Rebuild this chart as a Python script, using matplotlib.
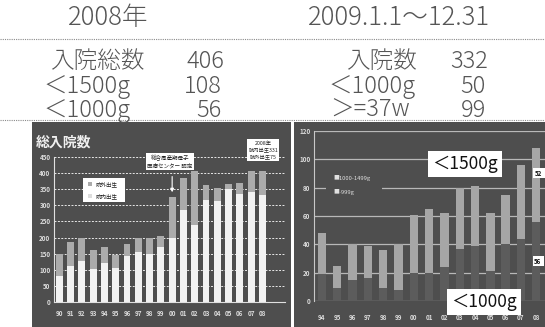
import matplotlib.pyplot as plt
import numpy as np
from matplotlib.patches import Rectangle
from matplotlib.lines import Line2D

W, H = 545, 327
plt.rcParams['font.family'] = ['Noto Sans CJK JP', 'DejaVu Sans']

# 総入院数 1990-2008 (院内出生 / 院外出生)
years_all = ['90', '91', '92', '93', '94', '95', '96', '97', '98', '99',
             '00', '01', '02', '03', '04', '05', '06', '07', '08']
inborn = [82, 112, 128, 103, 121, 104, 143, 155, 148, 170,
          200, 285, 240, 317, 312, 352, 336, 340, 331]
outborn = [68, 73, 72, 57, 49, 41, 37, 45, 50, 35,
           125, 100, 165, 45, 43, 13, 34, 65, 75]

# <1500g 1994-2008 (-999g / 1000-1499g)
years_vlbw = ['94', '95', '96', '97', '98', '99', '00', '01', '02',
              '03', '04', '05', '06', '07', '08']
under_1000 = [19, 9, 15, 16, 9, 8, 20, 20, 24, 37, 39, 21, 40, 44, 56]
g1000_1499 = [29, 16, 25, 23, 27, 32, 41, 45, 38, 43, 42, 41, 35, 52, 52]

BG = '#4e4e4e'
TXT = '#555555'


def fx(x):
    return x / W


def fy(y):
    return 1 - y / H


def ftext(x, y, s, **kw):
    kw.setdefault('va', 'center')
    return fig.text(fx(x), fy(y), s, **kw)


def frect(x0, y0, x1, y1, color, z=-1, **kw):
    r = Rectangle((fx(x0), fy(y1)), (x1 - x0) / W, (y1 - y0) / H,
                  transform=fig.transFigure, facecolor=color,
                  edgecolor='none', zorder=z, **kw)
    fig.add_artist(r)
    return r


fig = plt.figure(figsize=(W / 100, H / 100), dpi=100)
fig.patch.set_facecolor('white')

# summary block
for yy in (39, 120):
    fig.add_artist(Line2D([0, 1], [fy(yy), fy(yy)], transform=fig.transFigure,
                          color='#8a8a8a', lw=0.8, ls=(0, (1, 1))))

head = dict(fontsize=18.5, color=TXT, fontweight='light')
row = dict(fontsize=17, color=TXT, fontweight='light')

ftext(68, 18, '2008年', **head)
ftext(50, 61, '入院総数', **row)
ftext(224, 61, '406', ha='right', **row)
ftext(43, 86, '＜1500g', **row)
ftext(222, 86, '108', ha='right', **row)
ftext(43, 110, '＜1000g', **row)
ftext(222, 110, '56', ha='right', **row)

ftext(308, 18, '2009.1.1～12.31', **head)
ftext(346, 61, '入院数', **row)
ftext(488, 61, '332', ha='right', **row)
ftext(328, 86, '＜1000g', **row)
ftext(486, 86, '50', ha='right', **row)
ftext(330, 110, '＞=37w', **row)
ftext(486, 110, '99', ha='right', **row)

# dark panels behind both charts
frect(32, 122, 291, 327, BG)
frect(294, 122, 545, 327, BG)

tick_style = dict(length=0, labelsize=4.5, labelcolor='#dcdcdc')

# left: total admissions
ax1 = fig.add_axes([fx(54), fy(302), (285 - 54) / W, (302 - 157) / H])
ax1.set_facecolor('none')
x1 = np.arange(len(years_all))
ax1.bar(x1, inborn, width=0.6, color='#f2f2f2', zorder=2)
ax1.bar(x1, outborn, bottom=inborn, width=0.6, color='#ababab', zorder=2)
ax1.set_xlim(-0.47, 20.0)
ax1.set_ylim(0, 450)
ax1.set_yticks(range(0, 451, 50))
ax1.set_xticks(x1, years_all)
ax1.yaxis.grid(True, color='#e8e8e8', lw=0.7, ls=(0, (2, 1.5)))
ax1.set_axisbelow(True)
for s in ('top', 'right'):
    ax1.spines[s].set_visible(False)
for s in ('left', 'bottom'):
    ax1.spines[s].set_color('#e0e0e0')
    ax1.spines[s].set_linewidth(0.8)
ax1.tick_params(axis='y', pad=2.5, **tick_style)
ax1.tick_params(axis='x', pad=6, **tick_style)
for lab in ax1.get_xticklabels() + ax1.get_yticklabels():
    lab.set_fontweight('bold')

ftext(36, 143, '総入院数', fontsize=10, color='#f0f0f0', fontweight='bold')

ax1.annotate('', xy=(10, 332), xytext=(10, 398),
             arrowprops=dict(arrowstyle='-|>', color='white', lw=0.8,
                             mutation_scale=5))
ftext(170, 161.5, '総合周産期母子\n医療センター 認定', fontsize=4, color='#222',
      ha='center', linespacing=1.5,
      bbox=dict(boxstyle='square,pad=0.3', facecolor='white', edgecolor='none'))
ftext(263, 150, '2008年\n院内出生331\n院外出生75', fontsize=3.8, color='#222',
      ha='center', linespacing=1.4,
      bbox=dict(boxstyle='square,pad=0.3', facecolor='white', edgecolor='none'))

# legend box
frect(83, 178, 125, 202, 'white', z=3)
frect(88, 182, 92, 186, '#ababab', z=4)
frect(88, 194, 92, 198, '#dddddd', z=4)
ftext(95, 184, '院外出生', fontsize=4, color='#222', zorder=5)
ftext(95, 196, '院内出生', fontsize=4, color='#222', zorder=5)

# right: <1500g admissions
ax2 = fig.add_axes([fx(314), fy(301), (545 - 314) / W, (301 - 131) / H])
ax2.set_facecolor('none')
x2 = np.arange(len(years_vlbw))
ax2.bar(x2, under_1000, width=0.55, color='#5c5c5c', zorder=2)
ax2.bar(x2, g1000_1499, bottom=under_1000, width=0.55, color='#a6a6a6', zorder=2)
ax2.set_xlim(-0.52, 14.57)
ax2.set_ylim(0, 120)
ax2.set_yticks(range(0, 121, 20))
ax2.set_xticks(x2, years_vlbw)
ax2.yaxis.grid(True, color='#b8b8b8', lw=0.9)
ax2.set_axisbelow(True)
for s in ('top', 'right', 'bottom'):
    ax2.spines[s].set_visible(False)
ax2.spines['left'].set_color('#c8c8c8')
ax2.spines['left'].set_linewidth(0.8)
ax2.tick_params(axis='y', pad=2.5, **tick_style)
ax2.tick_params(axis='x', pad=9, **tick_style)
for lab in ax2.get_xticklabels() + ax2.get_yticklabels():
    lab.set_fontweight('bold')

frect(326, 171, 382, 199, BG, z=3)
ftext(333, 178, '■1000-1499g', fontsize=4.2, color='#e0e0e0', zorder=4)
ftext(333, 192, '■-999g', fontsize=4.2, color='#e0e0e0', zorder=4)

ftext(465, 164, '＜1500g', fontsize=12.5, color='#111', ha='center', zorder=5,
      bbox=dict(boxstyle='square,pad=0.25', facecolor='white', edgecolor='none'))
ftext(484, 302, '＜1000g', fontsize=12.5, color='#111', ha='center', zorder=5,
      bbox=dict(boxstyle='square,pad=0.25', facecolor='white', edgecolor='none'))
ftext(539, 173, str(g1000_1499[-1]), fontsize=4.5, color='#111', ha='center',
      fontweight='bold', zorder=5,
      bbox=dict(boxstyle='square,pad=0.3', facecolor='white', edgecolor='none'))
ftext(538, 261, str(under_1000[-1]), fontsize=4.5, color='#111', ha='center',
      fontweight='bold', zorder=5,
      bbox=dict(boxstyle='square,pad=0.3', facecolor='white', edgecolor='none'))

fig.savefig('out.png', dpi=100, facecolor='white')
